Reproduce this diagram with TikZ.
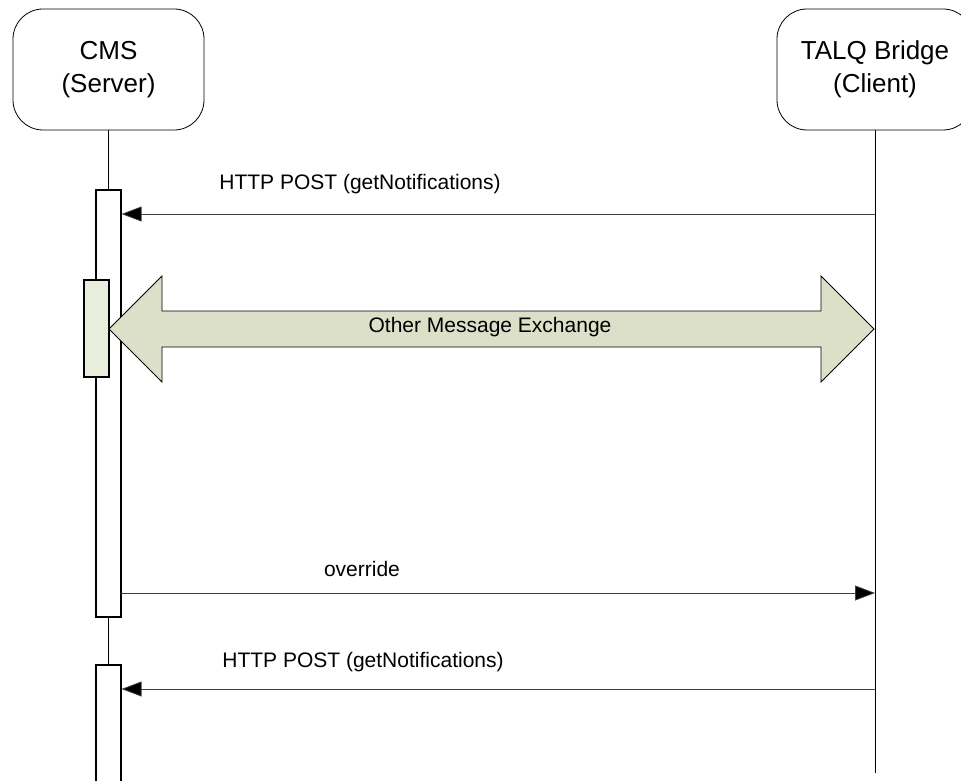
\documentclass[tikz,border=0pt]{standalone}
\usepackage{fontspec}
\setmainfont{Liberation Sans}
\usepackage{xcolor}
\usetikzlibrary{arrows.meta,positioning,calc}

\definecolor{actgreen}{HTML}{E8EEDC}
\definecolor{xchgreen}{HTML}{DCE0C9}

\begin{document}
\begin{tikzpicture}[
  x=1pt, y=-1pt,
  party/.style={draw, rectangle, rounded corners=30pt, minimum height=121pt, align=center,
    font=\fontsize{26}{33}\selectfont, line width=0.8pt},
  lifeline/.style={draw, line width=0.8pt},
  actbar/.style={draw, rectangle, fill=white, minimum width=25pt, inner sep=0pt, line width=1.1pt},
  msg/.style={draw=black!75, line width=0.8pt, -{Triangle[length=20pt,width=15pt,fill=black]}},
  lbl/.style={font=\fontsize{21}{25}\selectfont, inner sep=0pt},
]
\useasboundingbox (0,0) rectangle (961,781);
\clip (0,0) rectangle (961,781);

% participants
\node[party, minimum width=191pt] (cms) at (108.5,69.5) {CMS\\(Server)};
\node[party, minimum width=196pt] (talq) at (875,69.5) {TALQ Bridge\\(Client)};
\coordinate (cmsend) at (108.5,790);
\coordinate (talqend) at (875,773);
\draw[lifeline] (cms) -- (cmsend);
\draw[lifeline] (talq) -- (talqend);

% activations
\node[actbar, minimum height=427pt] (bar1) at (108.5,403.5) {};
\node[actbar, minimum height=130pt] (bar2) at (108.5,730) {};
\node[actbar, fill=actgreen, minimum height=97pt] (act) at (96.5,328.5) {};

% other message exchange
\draw[fill=xchgreen, line width=0.8pt]
  (109,329) -- (162,276) -- (162,311) -- (821,311) -- (821,276) -- (874,329)
  -- (821,382) -- (821,347) -- (162,347) -- (162,382) -- cycle;
\node[lbl] (xchg) at (490,327) {Other Message Exchange};

% messages
\coordinate (m1) at (875,214);
\coordinate (m2) at (121,593);
\coordinate (m3) at (875,689);
\draw[msg] (m1) -- (m1 -| bar1.east);
\draw[msg] (m2) -- (m2 -| talq);
\draw[msg] (m3) -- (m3 -| bar2.east);
\node[lbl] (l1) at (360,184) {HTTP POST (getNotifications)};
\node[lbl] (l2) at (362,569) {override};
\node[lbl] (l3) at (363,662) {HTTP POST (getNotifications)};
\end{tikzpicture}
\end{document}
